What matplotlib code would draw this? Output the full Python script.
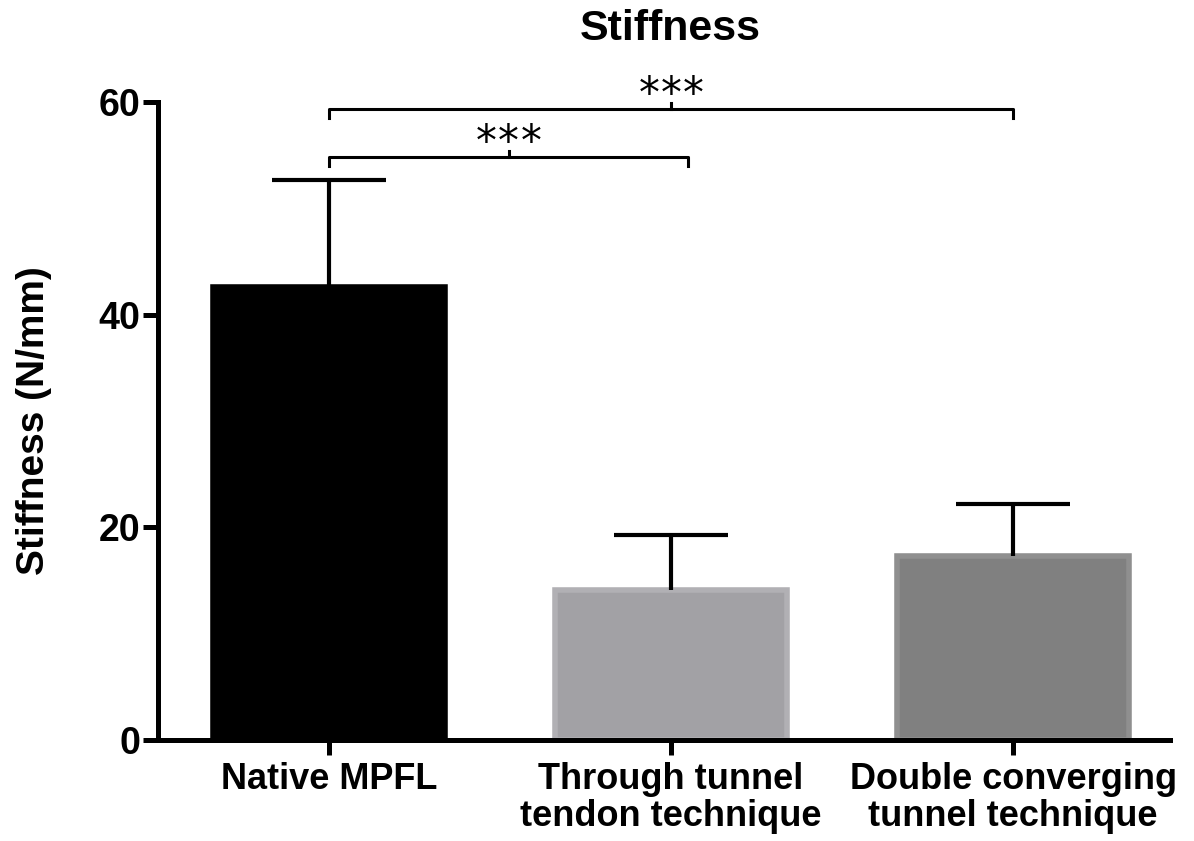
import matplotlib
matplotlib.use("Agg")
import matplotlib.pyplot as plt

categories = ["Native MPFL", "Through tunnel\ntendon technique", "Double converging\ntunnel technique"]
means = [42.6, 14.1, 17.3]
sd_upper = [10.1, 5.2, 4.9]
fill_colors = ["#000000", "#a2a1a5", "#808080"]
edge_colors = ["#000000", "#b1b0b4", "#8f8f8f"]
yticks = [0, 20, 40, 60]
title = "Stiffness"
ylabel = "Stiffness (N/mm)"
# significance comparisons: (i, j, bracket height, label)
comparisons = [(0, 1, 54.8, "*"), (0, 2, 59.3, "*")]
n_stars = 3

plt.rcParams['font.family'] = ['Liberation Sans', 'DejaVu Sans']

fig = plt.figure(figsize=(11.94, 8.41), dpi=100)
ax = fig.add_axes([0.1323, 0.120, 0.848, 0.7587])

x = list(range(len(categories)))
ax.bar(x, means, width=0.68, color=fill_colors, edgecolor=edge_colors, linewidth=4, zorder=2)
eb = ax.errorbar(x, means, yerr=[[0]*len(means), sd_upper], fmt='none', ecolor='black',
                 elinewidth=3, capsize=41, capthick=3, zorder=3)
# hide the lower caps (only upper SD drawn)
eb[1][0].set_visible(False)

ax.set_xlim(-0.5, 2.46)
ax.set_ylim(0, 60)
ax.set_yticks(yticks)
ax.set_xticks(x)
ax.set_xticklabels(categories, fontsize=26, fontweight='bold', linespacing=1.05)
for lab in ax.get_yticklabels():
    lab.set_fontsize(27)
    lab.set_fontweight('bold')
ax.tick_params(axis='y', width=3.6, length=11, direction='out', pad=2)
ax.tick_params(axis='x', width=3.6, length=11, direction='out', pad=5)
for s in ['top', 'right']:
    ax.spines[s].set_visible(False)
for s in ['left', 'bottom']:
    ax.spines[s].set_linewidth(3.6)

ax.set_ylabel(ylabel, fontsize=28, fontweight='bold', labelpad=33)
fig.text(0.561, 0.966, title, fontsize=31, fontweight='bold', ha='center', va='center')

for i, j, h, star in comparisons:
    xi, xj = x[i], x[j] + (0.05 if j == 1 else 0)
    d = 0.8
    ax.plot([xi, xi, xj, xj], [h - d, h, h, h - d], color='black', lw=2.2,
            clip_on=False, solid_joinstyle='round')
    xm = (xi + xj) / 2
    ax.plot([xm, xm], [h, h + 0.6], color='black', lw=2.2, clip_on=False)
    for k in range(n_stars):
        off = (k - (n_stars - 1) / 2) * 16
        ax.annotate(star, xy=(xm, h), xytext=(off, 2), textcoords='offset points',
                    ha='center', va='baseline', fontsize=30, family='DejaVu Sans',
                    annotation_clip=False)

fig.savefig("out.png", dpi=100)
